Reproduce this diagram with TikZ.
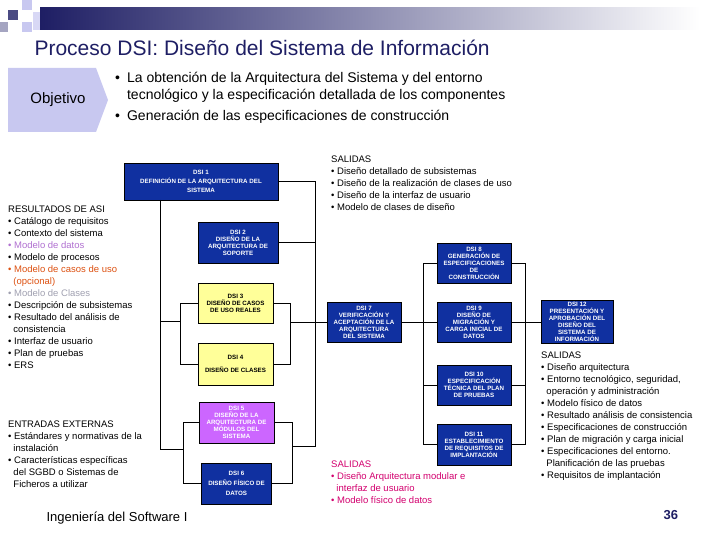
\documentclass[tikz,border=0pt]{standalone}
\usepackage{fontspec}
\setmainfont{Liberation Sans}
\definecolor{navy}{RGB}{30,30,100}
\definecolor{boxblue}{RGB}{16,48,160}
\definecolor{lyellow}{RGB}{255,255,153}
\definecolor{lpurple}{RGB}{204,102,255}
\definecolor{lav}{RGB}{200,200,240}
\definecolor{mpurple}{RGB}{176,112,208}
\definecolor{morange}{RGB}{220,80,16}
\definecolor{mgrey}{RGB}{160,160,176}
\definecolor{mmag}{RGB}{210,0,110}
\begin{document}
\begin{tikzpicture}[x=1pt,y=-1pt,
  dsi/.style={draw=black,line width=0.6pt,fill=boxblue,text=white,font=\fontsize{6.2}{7}\selectfont\bfseries,align=center,inner sep=0pt},
  dsiy/.style={dsi,fill=lyellow,text=black},
  dsip/.style={dsi,fill=lpurple,text=white},
  lst/.style={anchor=north west,align=left,font=\fontsize{9.5}{12}\selectfont,inner sep=0pt},
  ln/.style={line width=1pt}]
\useasboundingbox (0,0) rectangle (720,540);
% header
\shade[left color=navy,right color=white] (40,8) rectangle (700,30);
\fill[navy!80] (8,10) rectangle (18,20);
\fill[lav] (22,0) rectangle (32,10);
\fill[lav] (22,22) rectangle (32,32);
\fill[navy!40] (0,22) rectangle (8,32);
\fill[lav!70] (33,12) rectangle (40,30);
\node[anchor=west,text=navy,font=\fontsize{21}{24}\selectfont] (title) at (31,48) {Proceso DSI: Diseño del Sistema de Información};
\fill[lav] (8,68) -- (96,68) -- (108,100) -- (96,132) -- (8,132) -- cycle;
\node[font=\fontsize{15}{18}\selectfont] (obj) at (58,100) {Objetivo};
\node[anchor=north west,align=left,font=\fontsize{14}{17}\selectfont,inner sep=0pt] (objtxt) at (115,72)
 {•\enspace La obtención de la Arquitectura del Sistema y del entorno\\
  \phantom{•\enspace}tecnológico y la especificación detallada de los componentes\\[4pt]
  •\enspace Generación de las especificaciones de construcción};
% boxes
\node[dsi,minimum width=154,minimum height=37] (d1) at (201,181.5) {DSI 1\\[2pt]DEFINICIÓN DE LA ARQUITECTURA DEL\\[2pt]SISTEMA};
\node[dsi,minimum width=80,minimum height=41] (d2) at (238,242.5) {DSI 2\\DISEÑO DE LA\\ARQUITECTURA DE\\SOPORTE};
\node[dsiy,minimum width=75,minimum height=40] (d3) at (235.5,303) {DSI 3\\DISEÑO DE CASOS\\DE USO REALES};
\node[dsiy,minimum width=75,minimum height=42] (d4) at (235.5,364) {DSI 4\\[6pt]DISEÑO DE CLASES};
\node[dsip,minimum width=75,minimum height=41] (d5) at (236.5,422.5) {DSI 5\\DISEÑO DE LA\\ARQUITECTURA DE\\MÓDULOS DEL\\SISTEMA};
\node[dsi,minimum width=70,minimum height=41] (d6) at (236.5,483.5) {DSI 6\\[3pt]DISEÑO FÍSICO DE\\[3pt]DATOS};
\node[dsi,minimum width=74,minimum height=40] (d7) at (364,322) {DSI 7\\VERIFICACIÓN Y\\ACEPTACIÓN DE LA\\ARQUITECTURA\\DEL SISTEMA};
\node[dsi,minimum width=74,minimum height=40] (d8) at (474,263) {DSI 8\\GENERACIÓN DE\\ESPECIFICACIONES\\DE\\CONSTRUCCIÓN};
\node[dsi,minimum width=74,minimum height=40] (d9) at (474,322) {DSI 9\\DISEÑO DE\\MIGRACIÓN Y\\CARGA INICIAL DE\\DATOS};
\node[dsi,minimum width=74,minimum height=40] (d10) at (474,385) {DSI 10\\ESPECIFICACIÓN\\TÉCNICA DEL PLAN\\DE PRUEBAS};
\node[dsi,minimum width=74,minimum height=41] (d11) at (474,444.5) {DSI 11\\ESTABLECIMIENTO\\DE REQUISITOS DE\\IMPLANTACIÓN};
\node[dsi,minimum width=72,minimum height=43] (d12) at (577,322) {DSI 12\\PRESENTACIÓN Y\\APROBACIÓN DEL\\DISEÑO DEL\\SISTEMA DE\\INFORMACIÓN};
% connectors left
\draw[ln] (160,200) -- (160,449) -- (183,449);
\draw[ln] (160,321) -- (180,321);
\draw[ln] (d3.west) -- (180,303) -- (180,364) -- (d4.west);
\draw[ln] (d5.west) -- (183,422.5) -- (183,483.5) -- (d6.west);
% right
\draw[ln] (d1.east) -- (315,181.5) -- (315,446) -- (292,446);
\draw[ln] (d2.east) -- (315,242.5);
\draw[ln] (d3.east) -- (290,303) -- (290,364) -- (d4.east);
\draw[ln] (290,322) -- (d7.west);
\draw[ln] (d5.east) -- (292,422.5) -- (292,483.5) -- (d6.east);
\draw[ln] (d7.east) -- (423,322);
\draw[ln] (d8.west) -- (423,263) -- (423,444.5) -- (d11.west);
\draw[ln] (d9.west) -- (423,322); \draw[ln] (d10.west) -- (423,385);
\draw[ln] (d8.east) -- (525,263) -- (525,444.5) -- (d11.east);
\draw[ln] (d9.east) -- (d12.west); \draw[ln] (d10.east) -- (525,385);
% texts
\node[lst] (res) at (8,206) {RESULTADOS DE ASI\\
• Catálogo de requisitos\\
• Contexto del sistema\\
\textcolor{mpurple}{• Modelo de datos}\\
• Modelo de procesos\\
\textcolor{morange}{• Modelo de casos de uso}\\
\textcolor{morange}{\ \ (opcional)}\\
\textcolor{mgrey}{• Modelo de Clases}\\
• Descripción de subsistemas\\
• Resultado del análisis de\\
\ \ consistencia\\
• Interfaz de usuario\\
• Plan de pruebas\\
• ERS};
\node[lst] (ent) at (8,421) {ENTRADAS EXTERNAS\\
• Estándares y normativas de la\\
\ \ instalación\\
• Características específicas\\
\ \ del SGBD o Sistemas de\\
\ \ Ficheros a utilizar};
\node[lst] (s1) at (331,156) {SALIDAS\\
• Diseño detallado de subsistemas\\
• Diseño de la realización de clases de uso\\
• Diseño de la interfaz de usuario\\
• Modelo de clases de diseño};
\node[lst] (s2) at (541,352) {SALIDAS\\
• Diseño arquitectura\\
• Entorno tecnológico, seguridad,\\
\ \ operación y administración\\
• Modelo físico de datos\\
• Resultado análisis de consistencia\\
• Especificaciones de construcción\\
• Plan de migración y carga inicial\\
• Especificaciones del entorno.\\
\ \ Planificación de las pruebas\\
• Requisitos de implantación};
\node[lst,text=mmag] (s3) at (331,461) {SALIDAS\\
• Diseño Arquitectura modular e\\
\ \ interfaz de usuario\\
• Modelo físico de datos};
\node[anchor=west,font=\fontsize{13}{15}\selectfont] (foot) at (43,518) {Ingeniería del Software I};
\node[anchor=west,font=\fontsize{13}{15}\selectfont\bfseries,text=navy] (pg) at (660,515) {36};
\end{tikzpicture}
\end{document}
